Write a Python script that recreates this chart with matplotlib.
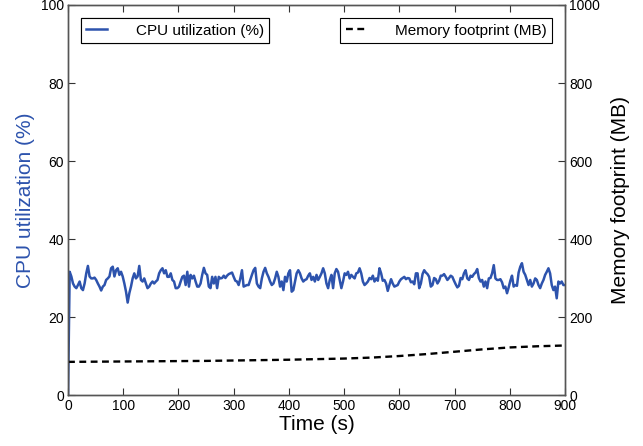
import matplotlib
matplotlib.use("Agg")
import matplotlib.pyplot as plt
import numpy as np

plt.rcParams["font.family"] = ["Liberation Sans", "DejaVu Sans"]

cpu_util = [
    0.0, 31.6, 30.4, 28.6, 27.8, 27.4, 28.2, 29.1, 27.4, 26.9,
    28.6, 31.2, 33.1, 30.4, 29.9, 29.9, 30.1, 29.5, 28.6, 27.8,
    26.8, 27.8, 28.2, 29.5, 29.9, 30.4, 32.5, 32.9, 30.4, 32.0,
    32.5, 30.8, 31.6, 30.4, 28.6, 26.5, 23.7, 26.1, 27.8, 29.9,
    31.2, 29.9, 30.4, 33.1, 29.5, 29.1, 29.9, 28.6, 27.4, 27.8,
    28.6, 29.1, 28.6, 29.1, 29.5, 31.2, 32.0, 32.5, 31.2,
    32.0, 30.3, 30.3, 31.2, 29.5, 29.1, 27.4, 27.4, 27.8, 29.1,
    30.3, 30.6, 28.2, 31.6, 27.8, 30.8, 29.9, 30.6, 29.1, 27.8,
    27.8, 28.6, 30.8, 32.6, 31.2, 30.8, 27.8, 27.4, 30.3, 28.6,
    30.3, 27.4, 30.3, 29.9, 30.0, 30.6, 30.0, 30.6, 31.0, 31.2,
    31.4, 30.3, 29.3, 29.1, 28.2, 29.9, 32.0, 27.8, 28.0, 28.2,
    28.2, 29.5, 30.8, 32.0, 32.6, 28.6, 27.8, 27.4, 29.9, 31.6,
    32.6,
    31.2, 30.3, 29.1, 28.2, 28.6, 29.9, 31.6, 30.3, 27.8, 29.1,
    26.9, 30.3, 29.1, 31.2, 32.0, 26.5, 26.9, 29.1, 31.2, 32.0,
    31.2, 29.9, 29.1, 29.5, 29.7, 30.6, 31.2, 29.5, 30.3, 29.1,
    30.8, 29.5, 30.3, 31.2, 32.5, 31.2, 28.6, 27.4, 29.5, 30.8,
    27.4, 31.2, 32.3, 31.6, 29.5, 27.4, 29.1, 31.2, 30.8, 31.6,
    29.9, 30.8, 30.3, 29.9, 31.2, 31.4, 32.5, 31.2, 29.1, 28.2,
    28.6, 29.1, 30.0, 29.7, 30.6, 29.1, 29.9, 29.3, 32.5, 31.2,
    29.3, 29.5, 28.6, 26.7, 28.2, 29.7, 28.6, 27.8, 28.0, 28.2,
    29.1, 29.7, 30.0, 30.3, 29.7, 30.0, 29.9, 28.9, 29.1, 28.4,
    31.2, 31.2, 27.4, 28.6, 31.0, 32.0, 31.4, 31.0, 30.3, 27.8,
    28.2, 30.0, 29.7, 28.6, 29.3, 30.6, 30.6, 31.0, 30.3, 29.5,
    30.0, 30.6, 30.3, 29.3, 28.4, 27.6, 28.0, 30.0, 29.7, 31.2,
    32.0,
    29.9, 29.5, 30.6, 30.3, 31.0, 31.4, 32.3, 30.0, 29.1, 29.5,
    27.8, 29.1, 27.4, 29.9, 30.0, 31.2, 33.3, 29.9, 29.5, 29.5,
    29.7, 28.9, 27.4, 27.8, 26.1, 27.6, 29.3, 30.6, 27.8, 28.2,
    28.0, 31.4, 32.9, 33.8, 31.6, 30.8, 29.5, 28.2, 29.5, 27.8,
    28.6, 29.9, 29.5, 28.2, 27.4, 28.6, 29.5, 30.8, 31.6, 32.5,
    31.2, 28.2, 26.9, 27.8, 24.8, 29.1, 28.6, 29.1, 28.2, 28.2,
]
cpu_time = np.arange(len(cpu_util)) * 3

# memory footprint (MB), every 50 s
mem_time = [0, 50, 100, 150, 200, 250, 300, 350, 400, 450,
            500, 550, 600, 650, 700, 750, 800, 850, 900]
mem_mb = [85, 85.5, 86, 86.5, 87, 87.5, 88.5, 89.5, 90.5, 92,
          93.5, 96, 100, 105, 111, 117, 122, 125, 127]

BLUE = "#2d53ad"

fig = plt.figure(figsize=(6.43, 4.46), dpi=100)
ax = fig.add_axes([0.1058, 0.1143, 0.7729, 0.8745])
ax2 = ax.twinx()

l1, = ax.plot(cpu_time, cpu_util, color=BLUE, lw=1.8, label="CPU utilization (%)")
l2, = ax2.plot(mem_time, mem_mb, color="black", lw=1.7, ls=(0, (2.9, 1.9)),
               label="Memory footprint (MB)")

ax.set_xlim(0, 900)
ax.set_ylim(0, 100)
ax2.set_ylim(0, 1000)
ax.set_xticks(np.arange(0, 901, 100))
ax.set_yticks(np.arange(0, 101, 20))
ax2.set_yticks(np.arange(0, 1001, 200))

ax.set_xlabel("Time (s)", fontsize=15, labelpad=1)
ax.set_ylabel("CPU utilization (%)", fontsize=15, color=BLUE, labelpad=4)
ax2.set_ylabel("Memory footprint (MB)", fontsize=15, labelpad=8)

for a in (ax, ax2):
    for s in a.spines.values():
        s.set_color("#555555")
        s.set_linewidth(1.0)
ax.tick_params(direction="in", top=True, length=5, labelsize=10, pad=3, color="#333333")
ax2.tick_params(direction="in", length=5, labelsize=10, pad=3, color="#333333")

leg_kw = dict(fontsize=11, fancybox=False, framealpha=1, edgecolor="black",
              handlelength=1.35, borderpad=0.35, handletextpad=1.9)
lg1 = ax.legend(handles=[l1], loc="upper left", bbox_to_anchor=(0.01, 0.985), **leg_kw)
lg1.get_frame().set_linewidth(0.8)
ax.add_artist(lg1)
lg2 = ax2.legend(handles=[l2], loc="upper right", bbox_to_anchor=(0.99, 0.985), **leg_kw)
lg2.get_frame().set_linewidth(0.8)

fig.savefig("out.png", facecolor="white")
